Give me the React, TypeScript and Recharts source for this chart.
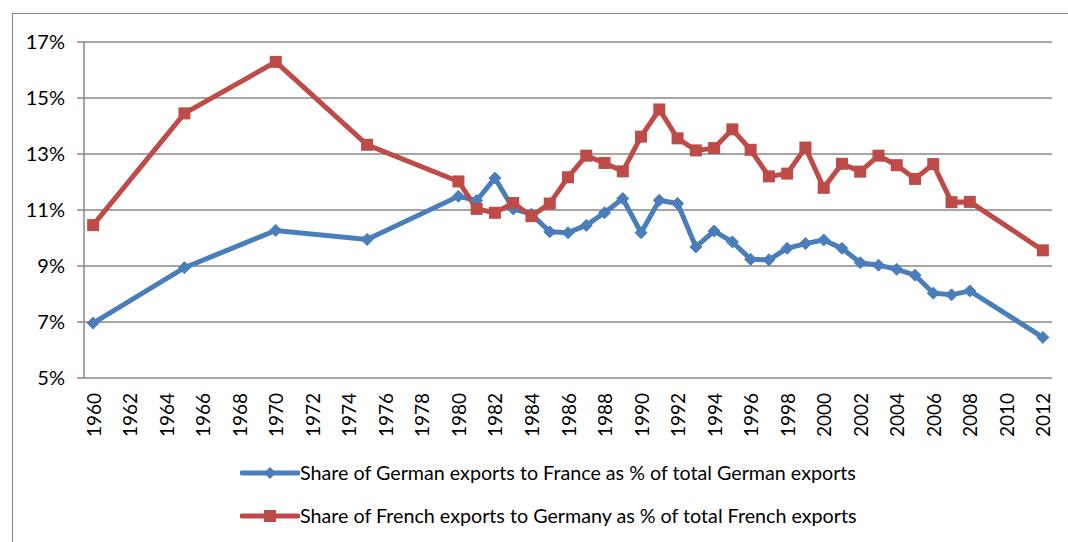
import React from "react";
import {
  LineChart,
  Line,
  XAxis,
  YAxis,
  CartesianGrid,
  Legend,
} from "recharts";

const years = [
  1960, 1965, 1970, 1975, 1980, 1981, 1982, 1983, 1984, 1985, 1986, 1987,
  1988, 1989, 1990, 1991, 1992, 1993, 1994, 1995, 1996, 1997, 1998, 1999,
  2000, 2001, 2002, 2003, 2004, 2005, 2006, 2007, 2008, 2012,
];

// Share of German exports to France (% of total German exports)
const germanToFrance = [
  6.96, 8.94, 10.27, 9.95, 11.49, 11.34, 12.14, 11.04, 10.85, 10.22, 10.19,
  10.45, 10.9, 11.41, 10.19, 11.35, 11.23, 9.68, 10.25, 9.86, 9.24, 9.22,
  9.63, 9.8, 9.93, 9.63, 9.12, 9.03, 8.88, 8.67, 8.03, 7.97, 8.11, 6.45,
];

// Share of French exports to Germany (% of total French exports)
const frenchToGermany = [
  10.46, 14.45, 16.29, 13.33, 12.02, 11.04, 10.9, 11.25, 10.78, 11.23, 12.17,
  12.94, 12.68, 12.38, 13.62, 14.59, 13.56, 13.13, 13.21, 13.88, 13.15, 12.2,
  12.3, 13.23, 11.79, 12.65, 12.37, 12.94, 12.6, 12.11, 12.64, 11.28, 11.29,
  9.56,
];

const yearLabels = [
  1960, 1962, 1964, 1966, 1968, 1970, 1972, 1974, 1976, 1978, 1980, 1982,
  1984, 1986, 1988, 1990, 1992, 1994, 1996, 1998, 2000, 2002, 2004, 2006,
  2008, 2010, 2012,
];
const yTicks = [5, 7, 9, 11, 13, 15, 17];

const seriesNames = [
  "Share of German exports to France as % of total German exports",
  "Share of French exports to Germany as % of total French exports",
];

const BLUE = "#4a7ebb";
const RED = "#be4b48";
const GRID = "#878787";
const FONT = "Lato, 'Liberation Sans', sans-serif";

const data = years.map((year, i) => ({
  year,
  de: germanToFrance[i],
  fr: frenchToGermany[i],
}));

// tick marks sit between the yearly categories
const boundaryTicks = [...Array(2012 - 1960 + 2)].map((_, i) => 1959.5 + i);

const Diamond = (props: any) => {
  const { cx, cy } = props;
  if (cx == null || cy == null) return null;
  const r = 6;
  return (
    <path
      d={`M${cx},${cy - r} L${cx + r},${cy} L${cx},${cy + r} L${cx - r},${cy} Z`}
      fill={BLUE}
      stroke={BLUE}
      strokeWidth={1}
    />
  );
};

const Square = (props: any) => {
  const { cx, cy } = props;
  if (cx == null || cy == null) return null;
  const s = 12;
  return <rect x={cx - s / 2} y={cy - s / 2} width={s} height={s} fill={RED} />;
};

const YearTick = (props: any) => {
  const { x, y, payload } = props;
  const ty = y + 13;
  return (
    <text
      x={x}
      y={ty}
      transform={`rotate(-90, ${x}, ${ty})`}
      textAnchor="end"
      dominantBaseline="central"
      fontFamily={FONT}
      fontSize={19}
      fill="#000"
    >
      {payload.value}
    </text>
  );
};

const LegendBox = () => (
  <div style={{ height: 100, paddingLeft: 227, fontFamily: FONT, fontSize: 19.7 }}>
    {seriesNames.map((name, i) => (
      <div
        key={name}
        style={{
          display: "flex",
          alignItems: "center",
          height: 43,
          marginTop: i === 0 ? 14 : 0,
        }}
      >
        <svg width={60} height={16}>
          <line x1={2} y1={8} x2={58} y2={8} stroke={i === 0 ? BLUE : RED} strokeWidth={5} strokeLinecap="round" />
          {i === 0 ? (
            <path d="M30,2 L36,8 L30,14 L24,8 Z" fill={BLUE} />
          ) : (
            <rect x={24} y={2} width={12} height={12} fill={RED} />
          )}
        </svg>
        <span style={{ color: "#000" }}>{name}</span>
      </div>
    ))}
  </div>
);

export default function App() {
  return (
    <div
      style={{
        position: "absolute",
        left: 12,
        top: 13,
        width: 1056,
        height: 529,
        boxSizing: "border-box",
        borderLeft: "1px solid #898989",
        borderTop: "1px solid #898989",
        background: "#fff",
      }}
    >
      <LineChart
        width={1043}
        height={528}
        data={data}
        margin={{ top: 28, right: 4, bottom: 3, left: 0 }}
      >
        <CartesianGrid vertical={false} stroke={GRID} strokeWidth={1.5} />
        <XAxis
          xAxisId="marks"
          dataKey="year"
          type="number"
          domain={[1959.5, 2012.5]}
          ticks={boundaryTicks}
          interval={0}
          height={0}
          tickSize={6}
          tick={false}
          tickLine={{ stroke: GRID, strokeWidth: 1.5 }}
          axisLine={{ stroke: GRID, strokeWidth: 1.5 }}
        />
        <XAxis
          xAxisId="years"
          dataKey="year"
          type="number"
          domain={[1959.5, 2012.5]}
          ticks={yearLabels}
          interval={0}
          height={47}
          tickSize={0}
          tickLine={false}
          axisLine={false}
          tick={<YearTick />}
        />
        <YAxis
          domain={[5, 17]}
          ticks={yTicks}
          interval={0}
          width={71}
          tickSize={7}
          tickMargin={12}
          tickFormatter={(v: number) => `${v}%`}
          tick={{ fill: "#000", fontFamily: FONT, fontSize: 20 }}
          tickLine={{ stroke: GRID, strokeWidth: 1.5 }}
          axisLine={{ stroke: GRID, strokeWidth: 1.5 }}
        />
        <Legend
          verticalAlign="bottom"
          align="left"
          content={<LegendBox />}
          wrapperStyle={{ bottom: -9 }}
        />
        <Line
          xAxisId="years"
          dataKey="de"
          name={seriesNames[0]}
          stroke={BLUE}
          strokeWidth={5}
          dot={<Diamond />}
          activeDot={false}
          isAnimationActive={false}
        />
        <Line
          xAxisId="years"
          dataKey="fr"
          name={seriesNames[1]}
          stroke={RED}
          strokeWidth={5}
          dot={<Square />}
          activeDot={false}
          isAnimationActive={false}
        />
      </LineChart>
    </div>
  );
}
